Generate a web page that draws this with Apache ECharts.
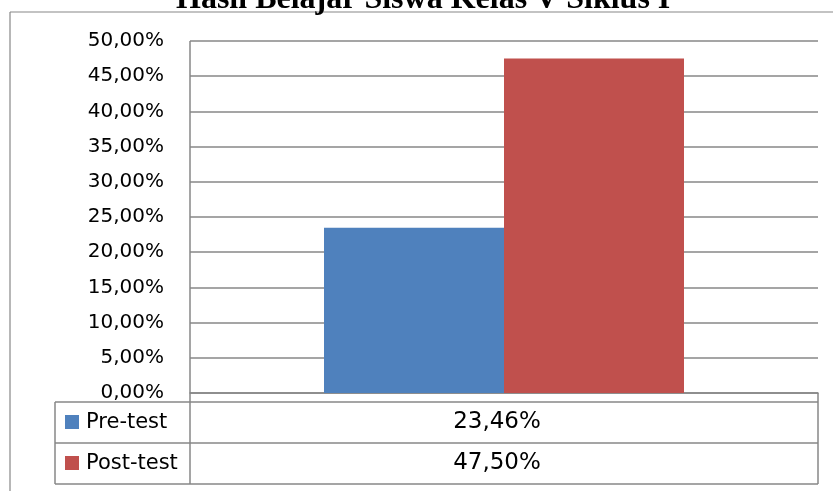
<!DOCTYPE html>
<html>
<head>
<meta charset="utf-8">
<script src="https://cdn.jsdelivr.net/npm/echarts@6/dist/echarts.min.js"></script>
<style>
  html, body { margin: 0; padding: 0; background: #ffffff; }
  #chart { width: 833px; height: 491px; }
</style>
</head>
<body>
<div id="chart"></div>
<script>
// Chart content
const titleText = 'Hasil Belajar Siswa Kelas V Siklus I';
const categories = [''];
const seriesNames = ['Pre-test', 'Post-test'];
const preTest = [23.46];
const postTest = [47.50];
const seriesColors = ['#4F81BD', '#C0504D'];
const yMin = 0;
const yMax = 50;
const yStep = 5;

// Layout
const W = 833, H = 491;
const plotLeft = 190, plotRight = 818, plotTop = 41, plotBottom = 393;
const tableLeft = 55, tableTop = 402, tableMid = 443, tableBottom = 484;
const lineColor = '#878787';
const labelFont = 'DejaVu Sans';
const labelSize = 20;
const nameSize = 21;
const valueSize = 23;

const pct = v => v.toFixed(2).replace('.', ',') + '%';

const chart = echarts.init(document.getElementById('chart'), null, { renderer: 'canvas' });

const seriesValues = [preTest, postTest];

// Data table under the plot: one row per series
const rowBounds = [[tableTop, tableMid], [tableMid, tableBottom]];
const tableGraphics = [];
const hLine = (x1, x2, y, w) => ({ type: 'line', shape: { x1, y1: y, x2, y2: y }, style: { stroke: lineColor, lineWidth: w }, silent: true });
const vLine = (x, y1, y2, w) => ({ type: 'line', shape: { x1: x, y1, x2: x, y2 }, style: { stroke: lineColor, lineWidth: w }, silent: true });

// outer chart frame
tableGraphics.push(hLine(10, W + 5, 12, 1.2));
tableGraphics.push(vLine(10, 12, H + 5, 1.2));
// table grid
tableGraphics.push(vLine(plotLeft, plotTop, tableBottom, 1.5));
tableGraphics.push(vLine(plotRight, plotBottom, tableBottom, 1.5));
tableGraphics.push(vLine(tableLeft, tableTop, tableBottom, 1.5));
tableGraphics.push(hLine(tableLeft, plotRight, tableTop, 1.5));
tableGraphics.push(hLine(tableLeft, plotRight, tableMid, 1.5));
tableGraphics.push(hLine(tableLeft, plotRight, tableBottom, 1.5));

seriesNames.forEach((name, i) => {
  const [y1, y2] = rowBounds[i];
  const cy = (y1 + y2) / 2;
  tableGraphics.push({
    type: 'rect', silent: true,
    shape: { x: 65, y: cy - 7.5, width: 14, height: 14 },
    style: { fill: seriesColors[i] }
  });
  tableGraphics.push({
    type: 'text', silent: true,
    style: { x: 86, y: cy, text: name, fill: '#000', font: nameSize + 'px "' + labelFont + '"', textAlign: 'left', textVerticalAlign: 'middle' }
  });
  tableGraphics.push({
    type: 'text', silent: true,
    style: { x: (plotLeft + plotRight) / 2 - 7, y: cy, text: pct(seriesValues[i][0]), fill: '#000', font: valueSize + 'px "' + labelFont + '"', textAlign: 'center', textVerticalAlign: 'middle' }
  });
});

chart.setOption({
  backgroundColor: '#ffffff',
  animation: false,
  title: {
    text: titleText,
    left: 176,
    top: -16,
    padding: 0,
    textStyle: { fontFamily: 'Liberation Serif', fontWeight: 'bold', fontSize: 32, color: '#000' }
  },
  grid: { left: plotLeft, right: W - plotRight, top: plotTop, bottom: H - plotBottom, containLabel: false },
  xAxis: {
    type: 'category',
    data: categories,
    axisLine: { show: true, lineStyle: { color: lineColor, width: 1.5 } },
    axisTick: { show: false },
    axisLabel: { show: false },
    splitLine: { show: false }
  },
  yAxis: {
    type: 'value',
    min: yMin,
    max: yMax,
    interval: yStep,
    axisLine: { show: false },
    axisTick: { show: false },
    splitLine: { show: true, lineStyle: { color: lineColor, width: 1.5 } },
    axisLabel: {
      margin: 26,
      color: '#000',
      fontFamily: labelFont,
      fontSize: labelSize,
      formatter: v => pct(v)
    }
  },
  series: seriesNames.map((name, i) => ({
    name,
    type: 'bar',
    data: seriesValues[i],
    barWidth: 180,
    barGap: '0%',
    itemStyle: { color: seriesColors[i] }
  })),
  graphic: tableGraphics
});
</script>
</body>
</html>
